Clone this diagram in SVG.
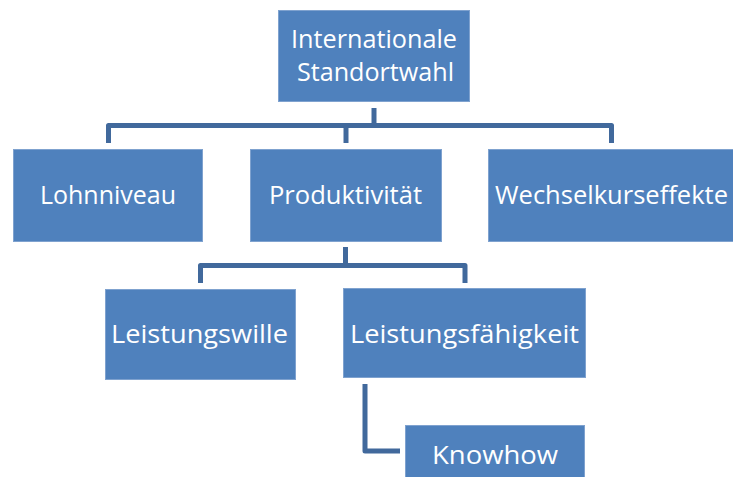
<svg xmlns="http://www.w3.org/2000/svg" width="733" height="477" viewBox="0 0 733 477">
<style>
.box{fill:#4F81BD;stroke:#7FA2CF;stroke-width:1}
.lbl{font-family:"Open Sans","Noto Sans","Liberation Sans",sans-serif;font-size:26px;fill:#FFFFFF;text-anchor:middle}
.con{fill:none;stroke:#41699C;stroke-width:5;stroke-linejoin:round}
</style>
<rect width="733" height="477" fill="#FFFFFF"/>
<g id="connectors">
<path class="con" d="M108.5,143 V125.5 H611.5 V143"/>
<path class="con" d="M374,108 V125.5"/>
<path class="con" d="M346,125.5 V143"/>
<path class="con" d="M345.5,247 V265.5"/>
<path class="con" d="M200.5,283 V265.5 H465 V283"/>
<path class="con" d="M365,384 V451 H400"/>
</g>
<g id="node-international">
<rect class="box" x="278.5" y="10.5" width="191" height="91"/>
<text class="lbl" x="374" y="48" textLength="166" lengthAdjust="spacingAndGlyphs">Internationale</text>
<text class="lbl" x="375.5" y="81" textLength="157" lengthAdjust="spacingAndGlyphs">Standortwahl</text>
</g>
<g id="node-lohnniveau">
<rect class="box" x="13.5" y="149.5" width="189" height="92"/>
<text class="lbl" x="108" y="204" textLength="136" lengthAdjust="spacingAndGlyphs">Lohnniveau</text>
</g>
<g id="node-produktivitaet">
<rect class="box" x="250.5" y="149.5" width="191" height="92"/>
<text class="lbl" x="345.5" y="204" textLength="153" lengthAdjust="spacingAndGlyphs">Produktivität</text>
</g>
<g id="node-wechselkurseffekte">
<rect class="box" x="488.5" y="149.5" width="247" height="92"/>
<text class="lbl" x="611.5" y="204" textLength="233" lengthAdjust="spacingAndGlyphs">Wechselkurseffekte</text>
</g>
<g id="node-leistungswille">
<rect class="box" x="105.5" y="289.5" width="190" height="90"/>
<text class="lbl" x="199.5" y="343" textLength="177" lengthAdjust="spacingAndGlyphs">Leistungswille</text>
</g>
<g id="node-leistungsfaehigkeit">
<rect class="box" x="343.5" y="288.5" width="242" height="89"/>
<text class="lbl" x="464.5" y="343" textLength="229" lengthAdjust="spacingAndGlyphs">Leistungsfähigkeit</text>
</g>
<g id="node-knowhow">
<rect class="box" x="405.5" y="425.5" width="179" height="53"/>
<text class="lbl" x="495" y="464" textLength="126" lengthAdjust="spacingAndGlyphs">Knowhow</text>
</g>
</svg>
